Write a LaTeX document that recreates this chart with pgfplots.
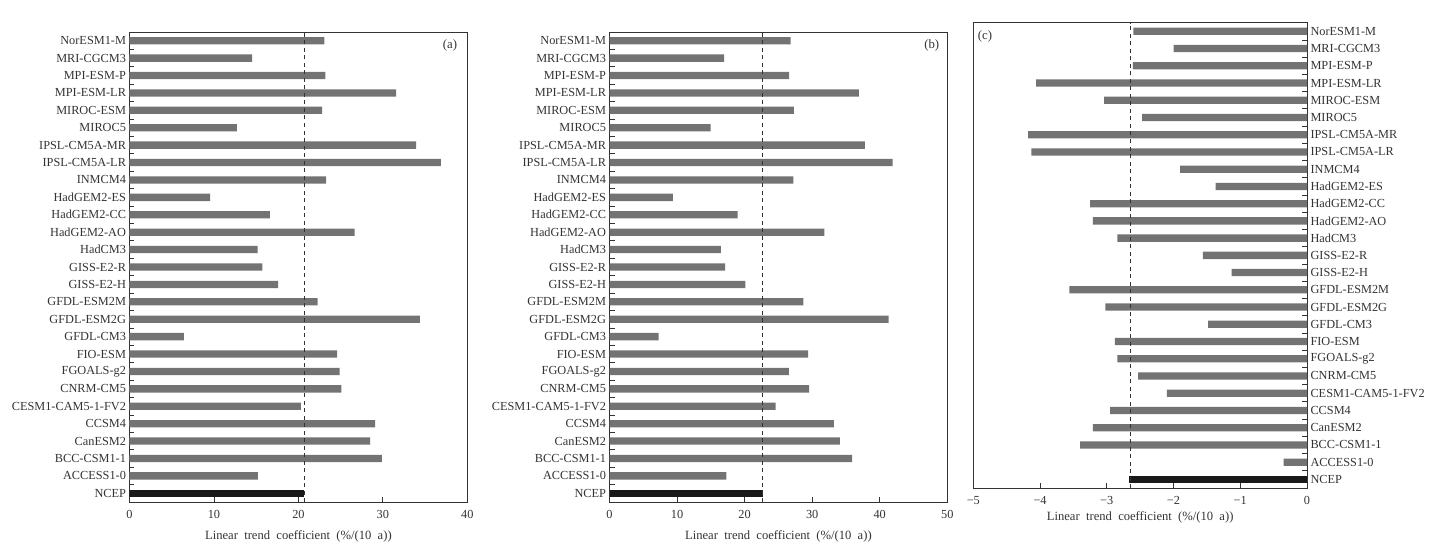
\documentclass[border=0pt]{standalone}
\usepackage{fontspec}
\setmainfont{Liberation Serif}
\usepackage{pgfplots}
\pgfplotsset{compat=1.18}
\definecolor{bargray}{HTML}{737373}
\definecolor{axgray}{HTML}{333333}
\pgfplotsset{
  panel/.style={
    scale only axis,
    ymin=-0.5, ymax=26.5,
    axis line style={axgray, line width=0.9pt},
    tick style={axgray, line width=0.8pt},
    tick align=inside,
    major tick length=0pt,
    minor tick length=5pt,
    xtick pos=bottom,
    ytick={0,1,...,26},
    minor ytick={0.5,1.5,...,25.5},
    yticklabels={NCEP,ACCESS1-0,BCC-CSM1-1,CanESM2,CCSM4,CESM1-CAM5-1-FV2,CNRM-CM5,FGOALS-g2,FIO-ESM,GFDL-CM3,GFDL-ESM2G,GFDL-ESM2M,GISS-E2-H,GISS-E2-R,HadCM3,HadGEM2-AO,HadGEM2-CC,HadGEM2-ES,INMCM4,IPSL-CM5A-LR,IPSL-CM5A-MR,MIROC5,MIROC-ESM,MPI-ESM-LR,MPI-ESM-P,MRI-CGCM3,NorESM1-M},
    tick label style={font=\fontsize{12.3}{14}\selectfont, text=axgray},
    xticklabel style={yshift=-5pt},
    label style={font=\fontsize{12.6}{14}\selectfont, text=axgray},
    xlabel style={yshift=-5pt},
    /pgf/number format/assume math mode=true,
    xlabel={Linear\ \ trend\ \ coefficient\ \ (\%/(10\ \ a))},
  },
  mbar/.style={xbar, bar shift=0pt, bar width=7.3pt, fill=bargray, draw=none},
  nbar/.style={xbar, bar shift=0pt, bar width=7.3pt, fill=black!90, draw=none},
  refline/.style={axgray, line width=1pt, dash pattern=on 4pt off 3.5pt},
}
\begin{document}
\begin{tikzpicture}
\useasboundingbox (0,0) rectangle (1432pt,558pt);
% (a)
\begin{axis}[panel, at={(129.5pt,56pt)}, anchor=south west,
  width=337.8pt, height=470pt, xmin=0, xmax=40, xtick={0,10,20,30,40},
  minor xtick={0,10,20,30,40},
  ytick pos=left, yticklabel pos=left]
\addplot[mbar] coordinates {(15.2,1) (29.87,2) (28.49,3) (29.08,4) (20.3,5) (25.09,6) (24.89,7) (24.58,8) (6.43,9) (34.38,10) (22.28,11) (17.6,12) (15.72,13) (15.16,14) (26.67,15) (16.63,16) (9.55,17) (23.27,18) (36.87,19) (33.95,20) (12.71,21) (22.8,22) (31.57,23) (23.19,24) (14.53,25) (23.07,26)};
\addplot[nbar] coordinates {(20.7,0)};
\addplot[refline] coordinates {(20.7,-0.5) (20.7,26.5)};
\node[font=\fontsize{12.8}{14}\selectfont, text=axgray] at (rel axis cs:0.949,0.972) {(a)};
\end{axis}
% (b)
\begin{axis}[panel, at={(609.5pt,56pt)}, anchor=south west,
  width=337.8pt, height=470pt, xmin=0, xmax=50, xtick={0,10,20,30,40,50},
  minor xtick={0,10,20,30,40,50},
  ytick pos=left, yticklabel pos=left]
\addplot[mbar] coordinates {(17.3,1) (35.9,2) (34.1,3) (33.2,4) (24.6,5) (29.56,6) (26.55,7) (29.4,8) (7.27,9) (41.3,10) (28.7,11) (20.1,12) (17.1,13) (16.5,14) (31.8,15) (18.96,16) (9.39,17) (27.2,18) (41.9,19) (37.8,20) (14.97,21) (27.3,22) (36.9,23) (26.6,24) (16.98,25) (26.8,26)};
\addplot[nbar] coordinates {(22.75,0)};
\addplot[refline] coordinates {(22.7,-0.5) (22.7,26.5)};
\node[font=\fontsize{12.8}{14}\selectfont, text=axgray] at (rel axis cs:0.954,0.972) {(b)};
\end{axis}
% (c)
\begin{axis}[panel, at={(973.3pt,70pt)}, anchor=south west,
  width=333.7pt, height=465.3pt, xmin=-5, xmax=0, xtick={-5,-4,-3,-2,-1,0},
  minor xtick={-5,-4,-3,-2,-1,0},
  xticklabels={−5,−4,−3,−2,−1,0},
  xlabel style={yshift=5pt},
  ytick pos=right, yticklabel pos=right]
\addplot[mbar] coordinates {(-0.35,1) (-3.40,2) (-3.21,3) (-2.95,4) (-2.10,5) (-2.53,6) (-2.84,7) (-2.88,8) (-1.48,9) (-3.02,10) (-3.56,11) (-1.13,12) (-1.56,13) (-2.84,14) (-3.21,15) (-3.25,16) (-1.37,17) (-1.90,18) (-4.13,19) (-4.18,20) (-2.47,21) (-3.04,22) (-4.06,23) (-2.61,24) (-2.00,25) (-2.60,26)};
\addplot[nbar] coordinates {(-2.66,0)};
\addplot[refline] coordinates {(-2.65,-0.5) (-2.65,26.5)};
\node[font=\fontsize{12.8}{14}\selectfont, text=axgray] at (rel axis cs:0.035,0.971) {(c)};
\end{axis}
\end{tikzpicture}
\end{document}
